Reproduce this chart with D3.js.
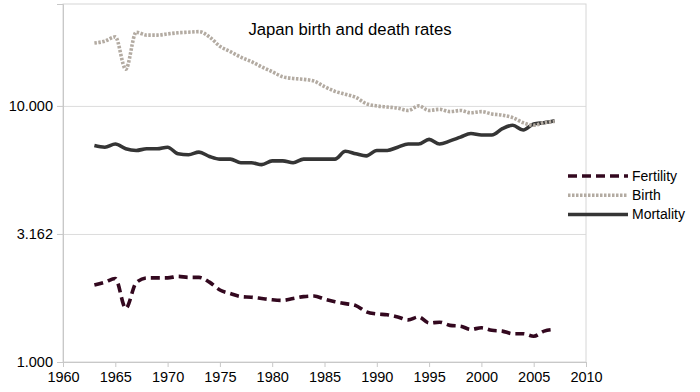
<!DOCTYPE html>
<html>
<head>
<meta charset="utf-8">
<script src="https://cdn.jsdelivr.net/npm/d3@7"></script>
<style>
  body { margin: 0; background: #fff; }
  text { font-family: "Liberation Sans", Arial, sans-serif; }
</style>
</head>
<body>
<svg id="svg" width="700" height="392"></svg>
<script>
// data
var years = d3.range(1963, 2008);

var fertility = [2.00, 2.05, 2.12, 1.62, 2.04, 2.13, 2.13, 2.13, 2.16, 2.14, 2.14, 2.05, 1.91, 1.85,
  1.80, 1.79, 1.77, 1.75, 1.74, 1.77, 1.80, 1.81, 1.76, 1.72, 1.69, 1.66, 1.57, 1.54, 1.53, 1.50,
  1.46, 1.50, 1.42, 1.43, 1.39, 1.38, 1.34, 1.36, 1.33, 1.32, 1.29, 1.29, 1.26, 1.32, 1.34];

var birth = [17.6, 17.9, 18.6, 13.9, 19.4, 18.9, 18.9, 19.1, 19.3, 19.4, 19.5, 18.6, 17.1, 16.3,
  15.5, 14.9, 14.2, 13.6, 13.0, 12.8, 12.7, 12.5, 11.9, 11.4, 11.1, 10.8, 10.2, 10.0, 9.9, 9.8,
  9.6, 10.0, 9.6, 9.7, 9.5, 9.6, 9.4, 9.5, 9.3, 9.2, 9.0, 8.6, 8.4, 8.6, 8.7];

var mortality = [7.0, 6.9, 7.1, 6.8, 6.7, 6.8, 6.8, 6.9, 6.5, 6.45, 6.6, 6.35, 6.2, 6.2,
  6.0, 6.0, 5.9, 6.1, 6.1, 6.0, 6.2, 6.2, 6.2, 6.2, 6.65, 6.5, 6.38, 6.7, 6.7, 6.9,
  7.1, 7.1, 7.4, 7.1, 7.3, 7.55, 7.8, 7.7, 7.7, 8.15, 8.4, 8.05, 8.5, 8.6, 8.75];

var xTicks = [1960, 1965, 1970, 1975, 1980, 1985, 1990, 1995, 2000, 2005, 2010];
var yTicks = [1, 3.162, 10];

var seriesNames = ["Fertility", "Birth", "Mortality"];
var seriesValues = [fertility, birth, mortality];

var svg = d3.select("#svg");
// plot box (window.top is reserved, so use other names)
var plotL = 63, plotR = 586, plotT = 4, plotB = 362;

var x = d3.scaleLinear().domain([1960, 2010]).range([plotL, plotR]);
var y = d3.scaleLog().domain([1, 25]).range([plotB, plotT]);

// gridlines
svg.append("g")
  .attr("transform", "translate(" + plotL + ",0)")
  .call(d3.axisLeft(y).tickValues(yTicks).tickSize(-(plotR - plotL)).tickFormat(""))
  .call(function(g) {
    g.select(".domain").remove();
    g.selectAll("line").attr("stroke", "#dcdcdc");
  });

// frame
svg.append("rect")
  .attr("x", plotL).attr("y", plotT)
  .attr("width", plotR - plotL).attr("height", plotB - plotT)
  .attr("fill", "none").attr("stroke", "#d6d6d6");

// y axis
svg.append("g")
  .attr("transform", "translate(" + plotL + ",0)")
  .call(d3.axisLeft(y).tickValues(yTicks).tickSize(6).tickPadding(4).tickFormat(d3.format(".3f")))
  .call(function(g) {
    g.select(".domain").attr("stroke", "#c8c8c8");
    g.selectAll("line").attr("stroke", "#c8c8c8");
    g.selectAll("text").attr("fill", "#000").style("font-size", "14.5px")
      .style("font-family", "Liberation Sans, Arial, sans-serif");
  });

// x axis
svg.append("g")
  .attr("transform", "translate(0," + plotB + ")")
  .call(d3.axisBottom(x).tickValues(xTicks).tickSize(5).tickPadding(5).tickFormat(d3.format("d")))
  .call(function(g) {
    g.select(".domain").attr("stroke", "#c8c8c8");
    g.selectAll("line").attr("stroke", "#c8c8c8");
    g.selectAll("text").attr("fill", "#000").style("font-size", "14.5px")
      .style("font-family", "Liberation Sans, Arial, sans-serif");
  });

var styles = {
  "Fertility": { color: "#33081f", dash: "9,5" },
  "Birth": { color: "#b3aba2", dash: "2.5,1.5" },
  "Mortality": { color: "#353535", dash: null }
};

var line = d3.line()
  .x(function(d, i) { return x(years[i]); })
  .y(function(d) { return y(d); })
  .curve(d3.curveMonotoneX);

// draw order: mortality below birth
[2, 1, 0].forEach(function(k) {
  var s = styles[seriesNames[k]];
  svg.append("path")
    .datum(seriesValues[k])
    .attr("fill", "none")
    .attr("stroke", s.color)
    .attr("stroke-width", 3.6)
    .attr("stroke-dasharray", s.dash)
    .attr("d", line);
});

// title
svg.append("text")
  .attr("x", 350).attr("y", 35)
  .attr("text-anchor", "middle")
  .style("font-size", "16.7px")
  .text("Japan birth and death rates");

// legend
var legend = svg.append("g").selectAll("g")
  .data(seriesNames)
  .enter().append("g")
  .attr("transform", function(d, i) { return "translate(568," + (176 + i * 19.2) + ")"; });

legend.append("line")
  .attr("x1", 0).attr("x2", 60)
  .attr("stroke", function(d) { return styles[d].color; })
  .attr("stroke-width", 3.5)
  .attr("stroke-dasharray", function(d) { return styles[d].dash; });

legend.append("text")
  .attr("x", 64).attr("dy", "0.35em")
  .style("font-size", "14px")
  .text(function(d) { return d; });
</script>
</body>
</html>
